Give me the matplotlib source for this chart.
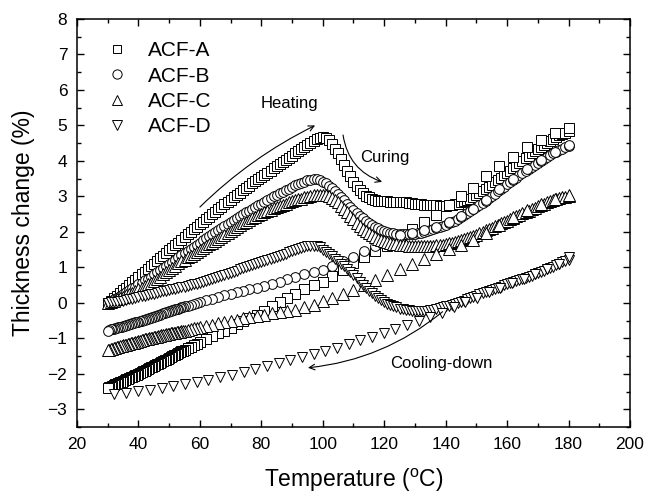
import matplotlib
matplotlib.use("Agg")
import matplotlib.pyplot as plt
from matplotlib.lines import Line2D
from matplotlib.ticker import MultipleLocator

plt.rcParams['font.family'] = ['Liberation Sans', 'DejaVu Sans']
plt.rcParams['mathtext.fontset'] = 'custom'
plt.rcParams['mathtext.rm'] = 'Liberation Sans'

# ---------------- data ----------------
labels = ["ACF-A", "ACF-B", "ACF-C", "ACF-D"]
markers = ["s", "o", "^", "v"]

# heating / curing / re-heating (uniform temperature sampling, degC)
T_heat = list(range(30, 181))

A_heat = [0.00, 0.06, 0.13, 0.20, 0.28, 0.35, 0.43, 0.50, 0.58, 0.65,
          0.73, 0.80, 0.88, 0.95, 1.03, 1.10, 1.18, 1.25, 1.33, 1.40,
          1.48, 1.55, 1.63, 1.70, 1.78, 1.85, 1.93, 2.00, 2.08, 2.15,
          2.22, 2.29, 2.36, 2.43, 2.50, 2.57, 2.64, 2.71, 2.78, 2.85,
          2.91, 2.98, 3.04, 3.11, 3.17, 3.24, 3.30, 3.37, 3.43, 3.49,
          3.55, 3.61, 3.67, 3.73, 3.79, 3.85, 3.91, 3.97, 4.03, 4.09,
          4.15, 4.21, 4.27, 4.33, 4.39, 4.45, 4.51, 4.57, 4.62, 4.65,
          4.67, 4.65, 4.58, 4.48, 4.35, 4.21, 4.05, 3.89, 3.72, 3.57,
          3.42, 3.29, 3.18, 3.09, 3.02, 2.97, 2.93, 2.90, 2.88, 2.87,
          2.86, 2.86, 2.85, 2.85, 2.84, 2.84, 2.83, 2.83, 2.82, 2.81,
          2.80, 2.79, 2.78, 2.77, 2.76, 2.76, 2.75, 2.75, 2.74, 2.74,
          2.74, 2.75, 2.76, 2.78, 2.80, 2.83, 2.86, 2.90, 2.94, 2.99,
          3.04, 3.09, 3.15, 3.21, 3.27, 3.33, 3.40, 3.46, 3.53, 3.59,
          3.66, 3.73, 3.80, 3.87, 3.94, 4.01, 4.08, 4.14, 4.21, 4.27,
          4.34, 4.40, 4.46, 4.51, 4.57, 4.62, 4.67, 4.72, 4.76, 4.80,
          4.84]
B_heat = [0.00, 0.05, 0.10, 0.15, 0.20, 0.25, 0.30, 0.35, 0.41, 0.46,
          0.52, 0.57, 0.63, 0.68, 0.74, 0.80, 0.86, 0.92, 0.98, 1.04,
          1.10, 1.16, 1.22, 1.28, 1.34, 1.40, 1.46, 1.52, 1.58, 1.64,
          1.70, 1.76, 1.82, 1.88, 1.94, 2.00, 2.06, 2.11, 2.17, 2.22,
          2.28, 2.33, 2.39, 2.44, 2.50, 2.55, 2.60, 2.65, 2.70, 2.75,
          2.80, 2.85, 2.90, 2.95, 3.00, 3.04, 3.09, 3.13, 3.18, 3.22,
          3.27, 3.31, 3.35, 3.39, 3.42, 3.45, 3.47, 3.48, 3.48, 3.46,
          3.42, 3.37, 3.30, 3.23, 3.15, 3.07, 2.98, 2.89, 2.80, 2.71,
          2.62, 2.54, 2.46, 2.39, 2.32, 2.26, 2.20, 2.15, 2.10, 2.06,
          2.03, 2.00, 1.98, 1.96, 1.95, 1.94, 1.94, 1.94, 1.94, 1.94,
          1.95, 1.96, 1.98, 2.00, 2.02, 2.04, 2.07, 2.10, 2.13, 2.16,
          2.20, 2.24, 2.28, 2.32, 2.37, 2.42, 2.47, 2.52, 2.58, 2.64,
          2.70, 2.76, 2.82, 2.88, 2.95, 3.01, 3.08, 3.14, 3.21, 3.27,
          3.34, 3.40, 3.47, 3.53, 3.60, 3.66, 3.72, 3.78, 3.84, 3.89,
          3.95, 4.00, 4.06, 4.11, 4.16, 4.21, 4.26, 4.30, 4.35, 4.39,
          4.42]
C_heat = [0.00, 0.03, 0.06, 0.10, 0.13, 0.17, 0.21, 0.25, 0.29, 0.33,
          0.38, 0.42, 0.47, 0.52, 0.57, 0.62, 0.68, 0.74, 0.80, 0.86,
          0.92, 0.98, 1.05, 1.11, 1.17, 1.22, 1.28, 1.33, 1.39, 1.44,
          1.50, 1.55, 1.60, 1.65, 1.70, 1.75, 1.80, 1.85, 1.91, 1.96,
          2.02, 2.07, 2.13, 2.18, 2.24, 2.29, 2.34, 2.38, 2.43, 2.47,
          2.51, 2.55, 2.59, 2.62, 2.66, 2.69, 2.73, 2.76, 2.80, 2.83,
          2.86, 2.89, 2.92, 2.94, 2.97, 2.99, 3.01, 3.03, 3.04, 3.05,
          3.05, 3.03, 3.00, 2.96, 2.90, 2.83, 2.74, 2.65, 2.55, 2.45,
          2.35, 2.26, 2.17, 2.09, 2.02, 1.96, 1.90, 1.85, 1.81, 1.77,
          1.74, 1.71, 1.69, 1.67, 1.66, 1.64, 1.63, 1.62, 1.61, 1.60,
          1.60, 1.60, 1.60, 1.60, 1.60, 1.60, 1.61, 1.62, 1.63, 1.64,
          1.66, 1.68, 1.70, 1.72, 1.74, 1.76, 1.79, 1.82, 1.85, 1.88,
          1.92, 1.96, 2.00, 2.04, 2.08, 2.12, 2.16, 2.20, 2.24, 2.28,
          2.32, 2.36, 2.40, 2.44, 2.48, 2.52, 2.56, 2.60, 2.64, 2.68,
          2.72, 2.76, 2.79, 2.83, 2.86, 2.89, 2.92, 2.95, 2.97, 2.99,
          3.00]
D_heat = [0.00, 0.01, 0.02, 0.03, 0.05, 0.06, 0.08, 0.10, 0.12, 0.14,
          0.16, 0.18, 0.20, 0.22, 0.24, 0.26, 0.28, 0.30, 0.32, 0.34,
          0.36, 0.38, 0.40, 0.42, 0.44, 0.46, 0.48, 0.50, 0.52, 0.54,
          0.57, 0.59, 0.62, 0.64, 0.67, 0.70, 0.73, 0.76, 0.79, 0.82,
          0.85, 0.88, 0.91, 0.94, 0.97, 1.00, 1.03, 1.06, 1.09, 1.12,
          1.15, 1.18, 1.21, 1.24, 1.27, 1.30, 1.33, 1.36, 1.39, 1.42,
          1.45, 1.48, 1.51, 1.54, 1.57, 1.59, 1.61, 1.61, 1.60, 1.56,
          1.50, 1.44, 1.38, 1.31, 1.24, 1.17, 1.10, 1.03, 0.95, 0.87,
          0.78, 0.69, 0.60, 0.51, 0.42, 0.34, 0.27, 0.20, 0.14, 0.08,
          0.03, -0.02, -0.06, -0.10, -0.13, -0.16, -0.18, -0.20, -0.21, -0.22,
          -0.23, -0.23, -0.23, -0.23, -0.22, -0.21, -0.19, -0.17, -0.15, -0.13,
          -0.10, -0.08, -0.05, -0.03, 0.00, 0.03, 0.06, 0.10, 0.13, 0.17,
          0.20, 0.24, 0.27, 0.31, 0.34, 0.37, 0.40, 0.43, 0.46, 0.49,
          0.52, 0.55, 0.58, 0.61, 0.64, 0.67, 0.70, 0.74, 0.77, 0.81,
          0.84, 0.88, 0.91, 0.95, 0.98, 1.02, 1.06, 1.10, 1.14, 1.18,
          1.22]

# cooling-down (sampled in time: sparse at high temperature, dense at low)
T_cool_hi = [180, 175.5, 171, 166.5, 162, 157.5, 153, 149, 145, 141,
             137, 133, 129, 125, 121, 117, 113.5, 110, 106.5, 103,
             100, 97, 94, 91, 88.5, 86, 83.5, 81, 78.5, 76,
             74, 72, 70, 68, 66, 64, 62, 60, 59, 58,
             57, 56, 55]
T_cool_lo = [54.5, 54, 53.5, 53, 52.5, 52, 51.5, 51, 50.5, 50,
             49.5, 49, 48.5, 48, 47.5, 47, 46.5, 46, 45.5, 45,
             44.5, 44, 43.5, 43, 42.5, 42, 41.5, 41, 40.5, 40,
             39.5, 39, 38.5, 38, 37.5, 37, 36.5, 36, 35.5, 35,
             34.5, 34, 33.5, 33, 32.5, 32, 31.5, 31, 30.5, 30]

A_cool_hi = [4.92, 4.78, 4.60, 4.38, 4.12, 3.85, 3.58, 3.25, 3.00, 2.75,
             2.48, 2.28, 2.08, 1.85, 1.60, 1.45, 1.28, 1.12, 0.93, 0.76,
             0.60, 0.50, 0.38, 0.25, 0.13, 0.02, -0.10, -0.22, -0.33, -0.44,
             -0.52, -0.60, -0.70, -0.78, -0.86, -0.94, -1.02, -1.10, -1.15, -1.19,
             -1.24, -1.28, -1.33]
A_cool_lo = [-1.35, -1.37, -1.39, -1.41, -1.44, -1.46, -1.48, -1.50, -1.52, -1.55,
             -1.57, -1.60, -1.62, -1.64, -1.66, -1.69, -1.71, -1.73, -1.75, -1.78,
             -1.80, -1.82, -1.84, -1.87, -1.89, -1.91, -1.93, -1.95, -1.97, -2.00,
             -2.02, -2.04, -2.06, -2.08, -2.10, -2.12, -2.14, -2.16, -2.18, -2.20,
             -2.22, -2.24, -2.26, -2.28, -2.30, -2.32, -2.34, -2.36, -2.38, -2.40]
B_cool_hi = [4.45, 4.25, 4.03, 3.78, 3.50, 3.20, 2.90, 2.65, 2.45, 2.28,
             2.14, 2.04, 1.97, 1.90, 1.75, 1.60, 1.45, 1.30, 1.18, 1.04,
             0.93, 0.86, 0.80, 0.72, 0.66, 0.60, 0.54, 0.48, 0.43, 0.38,
             0.34, 0.30, 0.26, 0.21, 0.16, 0.11, 0.07, 0.02, 0.00, -0.02,
             -0.05, -0.08, -0.10]
B_cool_lo = [-0.12, -0.13, -0.14, -0.16, -0.17, -0.18, -0.20, -0.21, -0.22, -0.24,
             -0.25, -0.27, -0.28, -0.30, -0.31, -0.33, -0.34, -0.36, -0.37, -0.39,
             -0.40, -0.42, -0.43, -0.45, -0.46, -0.48, -0.49, -0.50, -0.52, -0.53,
             -0.54, -0.55, -0.57, -0.58, -0.59, -0.60, -0.62, -0.63, -0.64, -0.65,
             -0.67, -0.68, -0.69, -0.70, -0.72, -0.73, -0.74, -0.75, -0.77, -0.78]
C_cool_hi = [3.05, 2.93, 2.80, 2.63, 2.42, 2.20, 1.97, 1.78, 1.64, 1.52,
             1.38, 1.24, 1.10, 0.95, 0.79, 0.64, 0.50, 0.37, 0.25, 0.14,
             0.04, -0.06, -0.13, -0.19, -0.23, -0.26, -0.30, -0.33, -0.37, -0.41,
             -0.44, -0.47, -0.51, -0.55, -0.58, -0.62, -0.65, -0.68, -0.70, -0.72,
             -0.74, -0.76, -0.78]
C_cool_lo = [-0.79, -0.80, -0.81, -0.82, -0.83, -0.84, -0.85, -0.85, -0.86, -0.87,
             -0.88, -0.89, -0.90, -0.91, -0.92, -0.93, -0.94, -0.95, -0.96, -0.97,
             -0.98, -0.99, -1.00, -1.01, -1.02, -1.03, -1.04, -1.05, -1.07, -1.08,
             -1.09, -1.10, -1.12, -1.13, -1.14, -1.15, -1.17, -1.18, -1.19, -1.20,
             -1.22, -1.23, -1.24, -1.25, -1.27, -1.28, -1.29, -1.30, -1.32, -1.33]

T_cool_D = [180, 176.8, 173, 169.2, 165.4, 161.6, 157.8, 154, 150.2, 146.4,
            142.6, 138.8, 135, 131.2, 127.4, 123.6, 119.8, 116, 112.2, 108.4,
            104.6, 100.8, 97, 93.2, 89.4, 85.6, 81.8, 78, 74.2, 70.4,
            66.6, 62.8, 59, 55.2, 51.4, 47.6, 43.8, 40, 36, 32]
D_cool = [1.28, 1.10, 0.95, 0.82, 0.68, 0.55, 0.43, 0.30, 0.15, 0.02,
          -0.12, -0.28, -0.40, -0.50, -0.62, -0.74, -0.85, -0.96, -1.06, -1.17,
          -1.26, -1.35, -1.44, -1.53, -1.62, -1.70, -1.79, -1.87, -1.95, -2.03,
          -2.10, -2.17, -2.24, -2.30, -2.35, -2.40, -2.45, -2.49, -2.53, -2.57]

heat_series = [A_heat, B_heat, C_heat, D_heat]
cool_T = [T_cool_hi + T_cool_lo, T_cool_hi + T_cool_lo, T_cool_hi + T_cool_lo, T_cool_D]
cool_series = [A_cool_hi + A_cool_lo, B_cool_hi + B_cool_lo, C_cool_hi + C_cool_lo, D_cool]
marker_sizes = [6.5, 7.0, 8.0, 7.5]

# ---------------- figure ----------------
fig = plt.figure(figsize=(6.47, 4.94), dpi=100)
ax = fig.add_axes([0.119, 0.1356, 0.8547, 0.8259])

for i in range(4):
    kw = dict(linestyle='none', marker=markers[i], ms=marker_sizes[i],
              mfc='white', mec='black', mew=0.7)
    ax.plot(T_heat, heat_series[i], **kw)
    ax.plot(cool_T[i], cool_series[i], **kw)

ax.set_xlim(20, 200)
ax.set_ylim(-3.5, 8)
ax.xaxis.set_major_locator(MultipleLocator(20))
ax.xaxis.set_minor_locator(MultipleLocator(10))
ax.yaxis.set_major_locator(MultipleLocator(1))
ax.yaxis.set_minor_locator(MultipleLocator(0.5))
ax.tick_params(which='both', direction='in', top=True, right=True, width=1.0)
ax.tick_params(which='major', length=5, labelsize=12.5, pad=7)
ax.tick_params(which='minor', length=3)
for s in ax.spines.values():
    s.set_linewidth(1.1)

ax.set_xlabel(r'Temperature ($^{\mathrm{o}}$C)', fontsize=16.5, labelpad=10.5)
ax.set_ylabel('Thickness change (%)', fontsize=16.5, labelpad=9)

# legend
handles = [Line2D([], [], linestyle='none', marker=markers[i], ms=marker_sizes[i] * 0.95,
                  mfc='white', mec='black', mew=0.7) for i in range(4)]
ax.legend(handles, labels, loc='upper left', bbox_to_anchor=(0.053, 0.945),
          frameon=False, fontsize=15, handlelength=1.0, handletextpad=1.0,
          labelspacing=0.3, borderaxespad=0, borderpad=0)

# annotations
ax.text(89, 5.63, 'Heating', fontsize=12, ha='center', va='center')
ax.text(120.3, 4.11, 'Curing', fontsize=12, ha='center', va='center')
ax.text(138.6, -1.70, 'Cooling-down', fontsize=12, ha='center', va='center')

ap = dict(arrowstyle='->', lw=0.8, color='black', shrinkA=0, shrinkB=0)
ax.annotate('', xy=(97.5, 5.0), xytext=(60, 2.7),
            arrowprops=dict(ap, connectionstyle='arc3,rad=-0.08'))
ax.annotate('', xy=(119.3, 3.41), xytext=(106.6, 4.73),
            arrowprops=dict(ap, connectionstyle='arc3,rad=0.3'))
ax.annotate('', xy=(95.2, -1.83), xytext=(139, -0.25),
            arrowprops=dict(ap, connectionstyle='arc3,rad=-0.15'))

fig.savefig('out.png', dpi=100)
